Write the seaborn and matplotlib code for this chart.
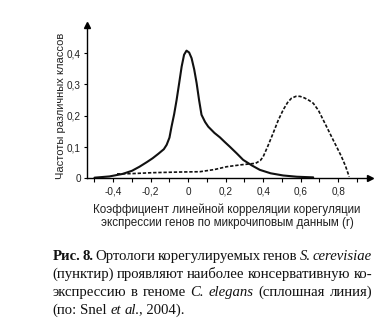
import matplotlib
matplotlib.use("Agg")
import matplotlib.pyplot as plt
import seaborn as sns
import pandas as pd

sns.set_theme(style="white")
plt.rcParams['font.family'] = ['Liberation Sans', 'DejaVu Sans']

# C. elegans (solid line)
solid_x = [-0.50, -0.42, -0.35, -0.30, -0.26, -0.22, -0.19, -0.16, -0.13, -0.115, -0.10, -0.089,
           -0.075, -0.062, -0.048, -0.035, -0.022, -0.009, 0.005, 0.018, 0.032, 0.045, 0.058,
           0.071, 0.09, 0.107, 0.14, 0.169, 0.195, 0.222, 0.26, 0.293, 0.34, 0.382, 0.44,
           0.507, 0.58, 0.667]
solid_y = [0.002, 0.006, 0.014, 0.024, 0.037, 0.052, 0.064, 0.078, 0.093, 0.107, 0.13, 0.165,
           0.205, 0.25, 0.305, 0.357, 0.395, 0.408, 0.402, 0.384, 0.348, 0.304, 0.25,
           0.203, 0.18, 0.165, 0.145, 0.131, 0.116, 0.101, 0.079, 0.059, 0.041, 0.027, 0.016,
           0.009, 0.005, 0.003]

# S. cerevisiae orthologs (dashed line)
dash_x = [-0.38, -0.30, -0.187, -0.05, 0.062, 0.14, 0.205, 0.28, 0.36, 0.385, 0.40, 0.425,
          0.453, 0.48, 0.507, 0.53, 0.551, 0.575, 0.596, 0.62, 0.645, 0.667, 0.695, 0.72,
          0.745, 0.773, 0.795, 0.818, 0.84, 0.859]
dash_y = [0.014, 0.015, 0.018, 0.020, 0.021, 0.028, 0.037, 0.043, 0.048, 0.057, 0.069, 0.103,
          0.144, 0.185, 0.219, 0.242, 0.256, 0.262, 0.262, 0.257, 0.249, 0.24, 0.217, 0.187,
          0.157, 0.123, 0.097, 0.069, 0.038, 0.005]

xticks = [-0.4, -0.2, 0.0, 0.2, 0.4, 0.6, 0.8]
xticklabels = ['-0,4', '-0,2', '0', '0,2', '0,4', '0,6', '0,8']
yticks = [0.0, 0.1, 0.2, 0.3, 0.4]
yticklabels = ['0', '0,1', '0,2', '0,3', '0,4']

W, H = 383, 327
fig = plt.figure(figsize=(W / 100, H / 100), dpi=100)
fig.patch.set_facecolor('white')
ax = fig.add_axes([87 / W, (H - 178.3) / H, (370 - 87) / W, (178.3 - 25) / H])
ax.set_facecolor('white')

df_s = pd.DataFrame({'x': solid_x, 'y': solid_y})
df_d = pd.DataFrame({'x': dash_x, 'y': dash_y})
sns.lineplot(data=df_s, x='x', y='y', ax=ax, color='#111111', lw=1.5, sort=False)
sns.lineplot(data=df_d, x='x', y='y', ax=ax, color='#111111', lw=1.2, sort=False,
             linestyle=(0, (2.0, 1.1)))

ax.set_xlim(-0.54, 0.97)
ax.set_ylim(0, 0.49)
for s in ['top', 'right']:
    ax.spines[s].set_visible(False)
for s in ['left', 'bottom']:
    ax.spines[s].set_color('black')
    ax.spines[s].set_linewidth(1.0)

ax.set_xticks(xticks)
ax.set_xticklabels(xticklabels)
ax.set_xticks([-0.5, -0.3, -0.1, 0.1, 0.3, 0.5, 0.7, 0.9], minor=True)
ax.set_yticks(yticks)
ax.set_yticklabels(yticklabels)
ax.tick_params(axis='x', which='both', direction='out', length=3, width=0.8, color='black',
               labelsize=7.2, pad=3, bottom=True)
ax.tick_params(axis='y', which='both', direction='out', length=2.5, width=0.8, color='black',
               labelsize=7.2, pad=2, left=True)
for lab in ax.get_xticklabels() + ax.get_yticklabels():
    lab.set_color('#222222')
ax.set_xlabel('')
ax.set_ylabel('')

# arrows on axes
ax.plot(1, 0, marker='>', color='black', markersize=5, transform=ax.transAxes, clip_on=False)
ax.plot(0, 1, marker='^', color='black', markersize=5, transform=ax.transAxes, clip_on=False)

fig.text(61 / W, 1 - 106 / H, 'Частоты различных классов', rotation=90,
         ha='center', va='center', fontsize=8, color='#222222')
fig.text(227 / W, 1 - 210 / H, 'Коэффициент линейной корреляции корегуляции',
         ha='center', va='center', fontsize=8.4, color='#222222')
fig.text(227 / W, 1 - 223 / H, 'экспрессии генов по микрочиповым данным (r)',
         ha='center', va='center', fontsize=8.4, color='#222222')

# caption (justified)
serif = ['Liberation Serif', 'DejaVu Serif']
caption = [
    ([('Рис.', 'bold'), ('8.', 'bold'), ('Ортологи', 'n'), ('корегулируемых', 'n'),
      ('генов', 'n'), ('S.', 'i'), ('cerevisiae', 'i')], True, 260),
    ([('(пунктир)', 'n'), ('проявляют', 'n'), ('наиболее', 'n'), ('консервативную', 'n'),
      ('ко-', 'n')], True, 277.8),
    ([('экспрессию', 'n'), ('в', 'n'), ('геноме', 'n'), ('C.', 'i'), ('elegans', 'i'),
      ('(сплошная', 'n'), ('линия)', 'n')], True, 295.6),
    ([('(по:', 'n'), ('Snel', 'n'), ('et', 'i'), ('al.', 'i'), (', 2004).', 'n')], False, 313.5),
]
x0, x1 = 52.5, 372
fig.canvas.draw()
renderer = fig.canvas.get_renderer()
for words, justify, yb in caption:
    texts = []
    for w, st in words:
        kw = dict(fontsize=10.6, family=serif, color='#111111', va='baseline', ha='left')
        if st == 'bold':
            kw['fontweight'] = 'bold'
        if st == 'i':
            kw['fontstyle'] = 'italic'
        t = fig.text(0, 1 - yb / H, w, **kw)
        texts.append(t)
    widths = [t.get_window_extent(renderer).width for t in texts]
    spw = 3.4
    if justify:
        gap = (x1 - x0 - sum(widths)) / (len(texts) - 1)
    else:
        gap = spw
    x = x0
    for i, t in enumerate(texts):
        if not justify and words[i][0].startswith(','):
            x -= gap
        t.set_x(x / W)
        x += widths[i] + gap

fig.savefig('out.png', dpi=100, facecolor='white')
